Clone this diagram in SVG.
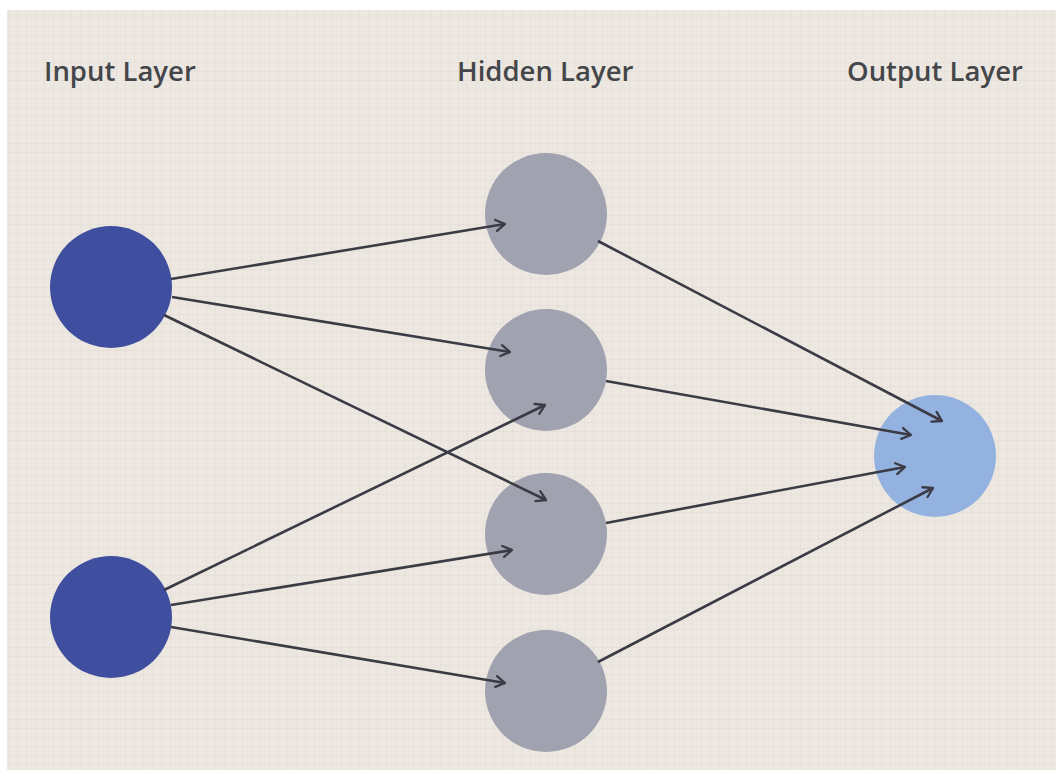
<svg xmlns="http://www.w3.org/2000/svg" width="1056" height="773" viewBox="0 0 1056 773">
<defs>
<pattern id="grid" width="9" height="9" patternUnits="userSpaceOnUse">
<path d="M9 0 V9 M0 9 H9" fill="none" stroke="#ddd7cf" stroke-width="0.8"/>
</pattern>
<marker id="arr" markerWidth="14" markerHeight="14" refX="11" refY="7" orient="auto" markerUnits="userSpaceOnUse">
<path d="M2 1.5 L11 7 L2 12.5" fill="none" stroke="#3a3b45" stroke-width="2.3" stroke-linecap="round" stroke-linejoin="round"/>
</marker>
<style>
.title{font-family:"Open Sans","Noto Sans","Liberation Sans",sans-serif;font-weight:600;font-size:27.5px;fill:#45464a}
.inp{fill:#3f4e9f}
.hid{fill:#a1a2b0}
.out{fill:#94b2e0}
.edge{stroke:#3a3b45;stroke-width:2.6;fill:none;marker-end:url(#arr)}
</style>
</defs>
<rect x="0" y="0" width="1056" height="773" fill="#ffffff"/>
<rect x="7" y="10" width="1049" height="760" fill="#ece8e1"/>
<rect x="7" y="10" width="1049" height="760" fill="url(#grid)"/>
<g id="labels">
<text class="title" x="44" y="81">Input Layer</text>
<text class="title" x="457" y="81">Hidden Layer</text>
<text class="title" x="847" y="81">Output Layer</text>
</g>
<g id="in1"><circle class="inp" cx="111" cy="287" r="61"/></g>
<g id="in2"><circle class="inp" cx="111" cy="617" r="61"/></g>
<g id="h1"><circle class="hid" cx="546" cy="214" r="61"/></g>
<g id="h2"><circle class="hid" cx="546" cy="370" r="61"/></g>
<g id="h3"><circle class="hid" cx="546" cy="534" r="61"/></g>
<g id="h4"><circle class="hid" cx="546" cy="691" r="61"/></g>
<g id="out"><circle class="out" cx="935" cy="456" r="61"/></g>
<g id="connectors">
<line class="edge" x1="171" y1="279" x2="505" y2="224"/>
<line class="edge" x1="172" y1="297" x2="510" y2="352"/>
<line class="edge" x1="164" y1="315" x2="546" y2="500"/>
<line class="edge" x1="164" y1="590" x2="545" y2="405"/>
<line class="edge" x1="171" y1="605" x2="512" y2="550"/>
<line class="edge" x1="171" y1="627" x2="505" y2="683"/>
<line class="edge" x1="598" y1="241" x2="942" y2="421"/>
<line class="edge" x1="606" y1="381" x2="911" y2="435"/>
<line class="edge" x1="606" y1="523" x2="905" y2="467"/>
<line class="edge" x1="598" y1="662" x2="933" y2="488"/>
</g>
</svg>
